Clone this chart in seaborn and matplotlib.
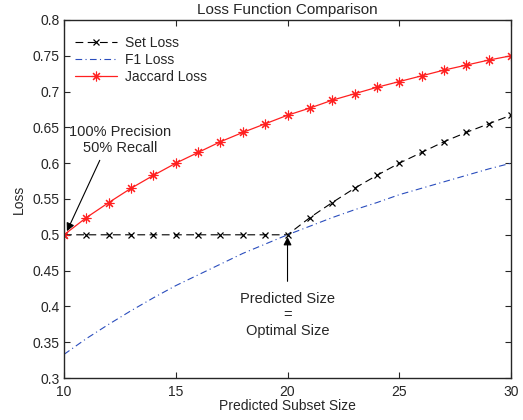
import numpy as np
import pandas as pd
import matplotlib
matplotlib.use("Agg")
import matplotlib.pyplot as plt
import seaborn as sns

# --- values ---
subset_size = list(range(10, 31))
set_loss = [0.5, 0.5, 0.5, 0.5, 0.5, 0.5, 0.5, 0.5, 0.5, 0.5, 0.5,
            0.524, 0.545, 0.565, 0.583, 0.6, 0.615, 0.63, 0.643, 0.655, 0.667]
f1_loss = [0.333, 0.355, 0.375, 0.394, 0.412, 0.429, 0.444, 0.459, 0.474, 0.487, 0.5,
           0.512, 0.524, 0.535, 0.545, 0.556, 0.565, 0.574, 0.583, 0.592, 0.6]
jaccard_loss = [0.5, 0.524, 0.545, 0.565, 0.583, 0.6, 0.615, 0.63, 0.643, 0.655, 0.667,
                0.677, 0.688, 0.697, 0.706, 0.714, 0.722, 0.73, 0.737, 0.744, 0.75]
x_ticks = [10, 15, 20, 25, 30]
y_ticks = [0.3, 0.35, 0.4, 0.45, 0.5, 0.55, 0.6, 0.65, 0.7, 0.75, 0.8]

sns.set_style("ticks")
plt.rcParams["font.family"] = ["Liberation Sans", "DejaVu Sans"]
plt.rcParams["font.size"] = 10

df = pd.DataFrame({
    "size": subset_size,
    "Set Loss": set_loss,
    "F1 Loss": f1_loss,
    "Jaccard Loss": jaccard_loss,
})

fig = plt.figure(figsize=(5.23, 4.2), dpi=100)
ax = fig.add_axes([0.1224, 0.1, 0.8547, 0.8524])

sns.lineplot(data=df, x="size", y="Set Loss", ax=ax, color="black",
             linestyle=(0, (7, 4)), linewidth=0.8, marker="x", markersize=5,
             markeredgewidth=0.9, markeredgecolor="black", label="Set Loss")
sns.lineplot(data=df, x="size", y="F1 Loss", ax=ax, color="#2a4dbd",
             linestyle=(0, (6, 3, 1, 3)), linewidth=0.8, label="F1 Loss")
sns.lineplot(data=df, x="size", y="Jaccard Loss", ax=ax, color="#ff2020",
             linestyle="-", linewidth=0.9, marker=(8, 2, 0), markersize=7,
             markeredgewidth=0.8, markeredgecolor="#ff2020", label="Jaccard Loss")

ax.set_xlim(10, 30)
ax.set_ylim(0.3, 0.8)
ax.set_xticks(x_ticks)
ax.set_yticks(y_ticks)
ax.set_yticklabels([f"{v:g}" for v in y_ticks])
ax.tick_params(direction="in", top=True, right=True, length=4, width=0.8,
               labelsize=10)
ax.tick_params(axis="x", pad=5)
ax.tick_params(axis="y", pad=3)
for s in ax.spines.values():
    s.set_visible(True)
    s.set_linewidth(1.0)

ax.set_title("Loss Function Comparison", fontsize=11, pad=4)
ax.set_xlabel("Predicted Subset Size", fontsize=10, labelpad=0)
ax.set_ylabel("Loss", fontsize=10, labelpad=5)

arrow = dict(arrowstyle="-|>", color="black", lw=0.8, shrinkA=0, shrinkB=0,
             mutation_scale=12)
ax.text(12.5, 0.632, "100% Precision\n50% Recall", ha="center", va="center",
        fontsize=10.5)
ax.annotate("", xy=(10.13, 0.505), xytext=(11.6, 0.604), arrowprops=arrow)
ax.text(20, 0.388, "Predicted Size\n=\nOptimal Size", ha="center", va="center",
        fontsize=10.5, linespacing=1.2)
ax.annotate("", xy=(20, 0.497), xytext=(20, 0.435), arrowprops=arrow)

ax.legend(loc="upper left", bbox_to_anchor=(0.0125, 0.97), borderaxespad=0,
          frameon=False, fontsize=10, handlelength=3.0, handletextpad=0.6,
          labelspacing=0.2)

fig.savefig("out.png", dpi=100)
